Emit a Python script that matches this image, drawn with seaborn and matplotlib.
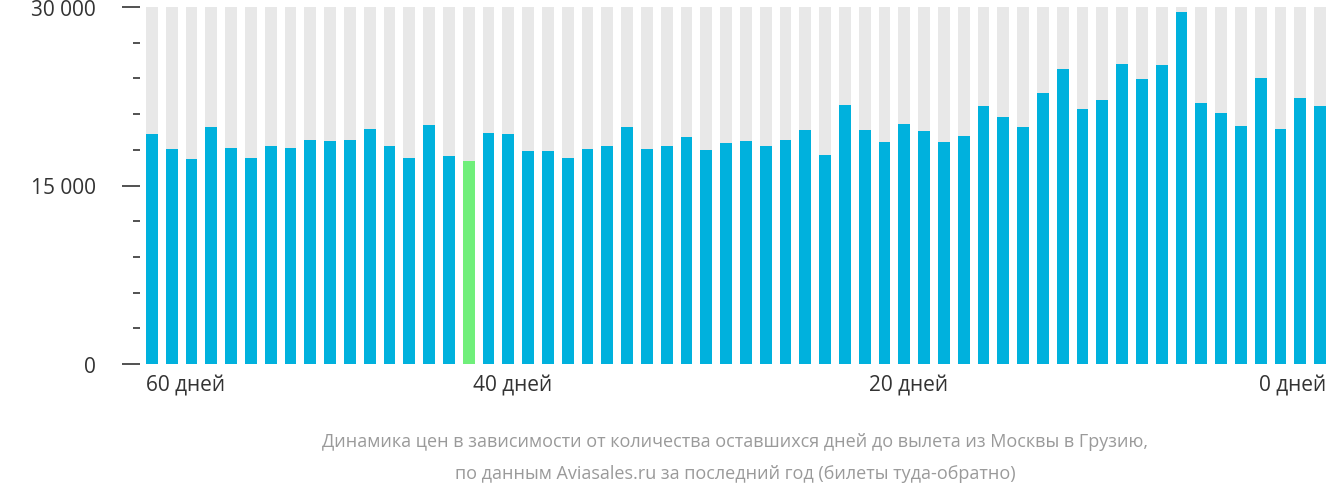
import matplotlib
matplotlib.use("Agg")
import matplotlib.pyplot as plt
import seaborn as sns
import numpy as np
import pandas as pd

values = [19330, 18070, 17230, 19920, 18150, 17310, 18320, 18150, 18820, 18740,
          18820, 19750, 18320, 17310, 20080, 17480, 17060, 19410, 19330, 17900,
          17900, 17310, 18070, 18320, 19920, 18070, 18320, 19080, 17980, 18570,
          18740, 18320, 18820, 19660, 17560, 21760, 19660, 18650, 20170, 19580,
          18650, 19160, 21680, 20760, 19920, 22770, 24790, 21430, 22180, 25210,
          23950, 25130, 29580, 21930, 21090, 20000, 24030, 19750, 22370, 21680]
highlight_index = 16
x_labels = ["60 дней", "40 дней", "20 дней", "0 дней"]
x_label_pos = [-0.3, 16.2, 36.2, 59.3]
y_ticks = [0, 15000, 30000]
y_tick_labels = ["0 ₽", "15 000 ₽", "30 000 ₽"]
caption = ("Динамика цен в зависимости от количества оставшихся дней до вылета из Москвы в Грузию,\n"
           "по данным Aviasales.ru за последний год (билеты туда-обратно)")

plt.rcParams["font.family"] = "Open Sans"
fig = plt.figure(figsize=(13.32, 5.02), dpi=100)
ax = fig.add_axes([140/1332, 1-365/502, 1-140/1332, 357/502])

df = pd.DataFrame({"i": np.arange(len(values)), "v": values,
                   "bg": [30000]*len(values)})
colors = ["#70ef7a" if i == highlight_index else "#00b1dd" for i in range(len(values))]
sns.barplot(data=df, x="i", y="bg", color="#e8e8e8", width=0.6, ax=ax, saturation=1)
sns.barplot(data=df, x="i", y="v", hue="i", palette=colors, width=0.6, ax=ax,
            saturation=1, legend=False)
ax.set_xlim(-0.6, len(values) - 0.4)
ax.set_ylim(0, 30000)
for s in ax.spines.values():
    s.set_visible(False)
ax.set_xticks([])
ax.set_xlabel("")
ax.set_ylabel("")
ax.set_yticks(y_ticks)
ax.set_yticklabels(y_tick_labels, fontsize=15, color="#333333")
ax.set_yticks(np.arange(0, 30001, 3000), minor=True)
ax.tick_params(axis="y", which="major", length=13, width=1.2, color="#333333", pad=6)
ax.tick_params(axis="y", which="minor", length=5, width=1.2, color="#333333")
for lab, p in zip(x_labels, x_label_pos):
    ha = "right" if p > 50 else "left"
    ax.text(p, -900, lab, ha=ha, va="top", fontsize=15, color="#333333")
fig.text(735/1332, 1-458/502, caption, ha="center", va="center", fontsize=13,
         color="#9a9a9a", linespacing=2.0)
fig.savefig("out.png", dpi=100)
